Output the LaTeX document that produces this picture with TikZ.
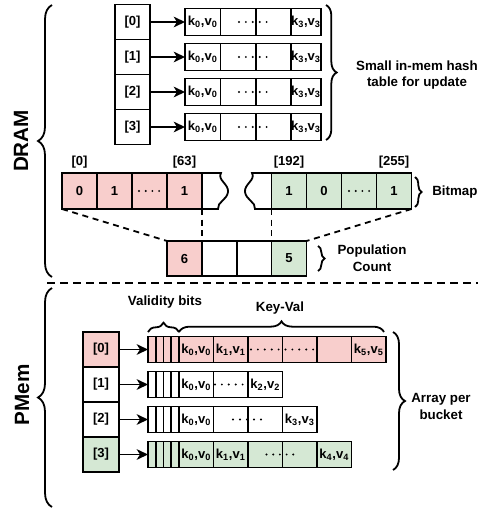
\documentclass[tikz,border=0pt]{standalone}
\usepackage{fontspec}
\setmainfont{Liberation Sans}
\usetikzlibrary{arrows.meta,decorations.pathreplacing}
\definecolor{pinkc}{HTML}{F8CECC}
\definecolor{greenc}{HTML}{D5E8D4}
\newcommand\px{0.75pt}
\newcommand\kv[1]{k\textsubscript{#1},v\textsubscript{#1}}
% a row of small dots: start x, step, count, y
\newcommand\dotrow[4]{\foreach \dd in {1,...,#3}{\fill ({#1+(\dd-1)*#2},{#4}) circle[radius=0.8pt];}}
% one bucket array in PMem: row, fill, cell texts
\newcommand\pmrow[3]{%
  \pgfmathsetmacro\rt{336.5+35*#1}%
  \foreach \b in {1,...,4}{\node[cellbox={7.75}{26},fill=#2] (pb#1-\b) at ({148+(\b-1)*7.75},\rt) {};}%
  \foreach \ct [count=\i] in {#3}{\node[cellbox={34.5}{26},fill=#2] (pc#1-\i) at ({179+(\i-1)*34.5},\rt) {\ct};}%
  \draw[arr] (pi#1.east) -- (pb#1-1.west);%
}
\begin{document}
\begin{tikzpicture}[x=0.75pt,y=-0.75pt,line width=1.35pt,
  font=\bfseries\fontsize{9.8}{11}\selectfont,
  cellbox/.style 2 args={draw,inner sep=0pt,outer sep=0pt,anchor=north west,
    minimum width=#1*\px,minimum height=#2*\px},
  arr/.style={-{Stealth[length=8.5pt,width=8pt,inset=2.5pt]}},
  guide/.style={dash pattern=on 4.5pt off 3.5pt},
  brc/.style={decorate,decoration={brace,amplitude=#1}},
  lbl/.style={font=\bfseries\fontsize{10}{12.5}\selectfont,align=center},
  big/.style={font=\bfseries\fontsize{15.5}{18}\selectfont,rotate=90},
]
\useasboundingbox (0,0) rectangle (480,510);

% ---------- DRAM: small hash table ----------
\foreach \r in {0,...,3}{
  \node[cellbox={35}{35}] (hi\r) at (115,{4.5+35*\r}) {[\r]};
  \node[cellbox={35.5}{27}] (ha\r-1) at (185,{8.5+35*\r}) {\kv{0}};
  \node[cellbox={35.5}{27}] (ha\r-2) at (220.5,{8.5+35*\r}) {};
  \node[cellbox={35}{27}] (ha\r-3) at (256,{8.5+35*\r}) {};
  \node[cellbox={29}{27}] (ha\r-4) at (291,{8.5+35*\r}) {\kv{3}};
  \draw[arr] (hi\r.east) -- (ha\r-1.west);
  \dotrow{239}{6.9}{5}{22+35*\r}
}
\draw[brc=8pt] (326,5) -- (326,140);
\node[lbl] (lblhash) at (417,75) {Small in-mem hash\\table for update};

% ---------- DRAM: bitmap ----------
\node[cellbox={35}{36},fill=pinkc] (b1) at (62,173) {0};
\node[cellbox={35}{36},fill=pinkc] (b2) at (97,173) {1};
\node[cellbox={35}{36},fill=pinkc] (b3) at (132,173) {};
\node[cellbox={35}{36},fill=pinkc] (b4) at (167,173) {1};
\dotrow{139}{6.7}{4}{191}
\draw (b4.north east) -- (221,173) .. controls (217,180) and (229,184) .. (228,192)
      .. controls (227,200) and (217,202) .. (218,209) -- (b4.south east);

\node[cellbox={35}{36},fill=greenc] (g1) at (271.5,173) {1};
\node[cellbox={35}{36},fill=greenc] (g2) at (306.5,173) {0};
\node[cellbox={35}{36},fill=greenc] (g3) at (341.5,173) {};
\node[cellbox={35}{36},fill=greenc] (g4) at (376.5,173) {1};
\dotrow{349}{6.7}{4}{191}
\draw (g1.north west) -- (252,173) .. controls (256,180) and (244,184) .. (245,192)
      .. controls (246,200) and (256,202) .. (255,209) -- (g1.south west);

\node (l0) at (79.5,162) {[0]};
\node (l63) at (184.5,162) {[63]};
\node (l192) at (289,162) {[192]};
\node (l255) at (394,162) {[255]};

\draw[brc=5pt] (415,177) -- (415,207);
\node[lbl,anchor=west] (lblbmp) at (427,192) {Bitmap};

% ---------- DRAM: population count ----------
\node[cellbox={35}{35},fill=pinkc] (p1) at (167,241) {6};
\node[cellbox={35}{35}] (p2) at (202,241) {};
\node[cellbox={34.5}{35}] (p3) at (237,241) {};
\node[cellbox={35}{35},fill=greenc] (p4) at (271.5,241) {5};

\draw[guide] (b1.south west) -- (p1.north west);
\draw[guide] (b4.south east) -- (p1.north east);
\draw[guide] (g1.south west) -- (p4.north west);
\draw[guide] (g4.south east) -- (p4.north east);

\draw[brc=5pt] (318,246) -- (318,271);
\node[lbl] (lblpop) at (372,258.5) {Population\\Count};

% ---------- memory split ----------
\draw[brc=10.5pt] (52,277) -- (52,5);
\node[big] (dram) at (21,141) {DRAM};
\draw[line width=1.5pt,dash pattern=on 6pt off 3.75pt] (47,283) -- (478,283);
\draw[brc=10.5pt] (52,507) -- (52,288);
\node[big] (pmem) at (22,395) {PMem};

% ---------- PMem: buckets ----------
\node[cellbox={36}{35},fill=pinkc] (pi0) at (83,332) {[0]};
\node[cellbox={36}{35}] (pi1) at (83,367) {[1]};
\node[cellbox={36}{35}] (pi2) at (83,402) {[2]};
\node[cellbox={36}{35},fill=greenc] (pi3) at (83,437) {[3]};

\pmrow{0}{pinkc}{\kv{0},\kv{1},{},{},{},\kv{5}}
\pmrow{1}{white}{\kv{0},{},\kv{2}}
\pmrow{2}{white}{\kv{0},{},{},\kv{3}}
\pmrow{3}{greenc}{\kv{0},\kv{1},{},{},\kv{4}}
\dotrow{251}{6.9}{10}{349.5}
\dotrow{215}{6.9}{5}{384.5}
\dotrow{233}{7}{5}{419.5}
\dotrow{266.5}{6.7}{5}{454.5}

\draw[brc=7pt] (148,332) -- (179,332);
\node[lbl] (lblvb) at (165,302) {Validity bits};
\draw[brc=8pt] (179,332) -- (384,332);
\node[lbl] (lblkv) at (280,308.5) {Key-Val};
\draw[brc=9pt] (393,332) -- (393,470);
\node[lbl] (lblarr) at (441,406.5) {Array per\\bucket};
\end{tikzpicture}
\end{document}
